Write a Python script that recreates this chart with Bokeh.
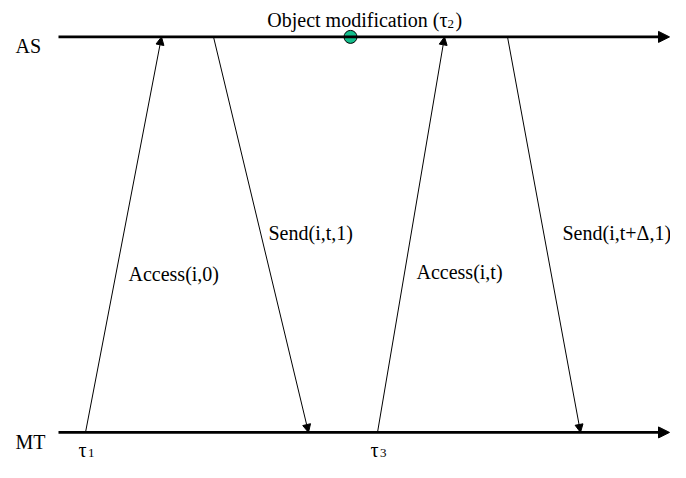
from bokeh.plotting import figure
from bokeh.models import Range1d, Arrow, NormalHead, ColumnDataSource
from bokeh.core.properties import value
from bokeh.embed import file_html
from bokeh.resources import INLINE

# ---- data ----
lane_names = ["AS", "MT"]
lane_y = [37.5, 445]
lane_x_start = 58
lane_x_end = 670

msg_labels = ["Access(i,0)", "Send(i,t,1)", "Access(i,t)", "Send(i,t+\u0394,1)"]
msg_from = ["MT", "AS", "MT", "AS"]
msg_to = ["AS", "MT", "AS", "MT"]
msg_t_start = [85, 213, 377, 507]
msg_t_end = [161, 308, 444, 580]
msg_label_x = [128, 268, 416, 562]
msg_label_y = [282, 240, 280, 240]

event_label = "Object modification (\u03c4"
event_sub = "2"
event_t = 350

tau_names = ["\u03c4", "\u03c4"]
tau_subs = ["1", "3"]
tau_x = [78, 370]

FONT = value("Liberation Serif")

p = figure(width=670, height=462, output_backend="svg", toolbar_location=None,
           x_range=Range1d(0, 670), y_range=Range1d(476, 0),
           min_border=0, outline_line_color=None)
p.axis.visible = False
p.grid.visible = False
p.background_fill_color = "white"
p.border_fill_color = "white"

ly = dict(zip(lane_names, lane_y))

# timelines
for name in lane_names:
    p.add_layout(Arrow(end=NormalHead(size=11, fill_color="black", line_color="black", line_width=1),
                       x_start=lane_x_start, y_start=ly[name], x_end=lane_x_end - 1, y_end=ly[name],
                       line_width=2.6, line_color="black"))

# messages
for f, t, xs, xe in zip(msg_from, msg_to, msg_t_start, msg_t_end):
    p.add_layout(Arrow(end=NormalHead(size=8, fill_color="black", line_color="black", line_width=1),
                       x_start=xs, y_start=ly[f], x_end=xe, y_end=ly[t],
                       line_width=1, line_color="black"))

# lane labels
p.text(x=[15, 15], y=[ly["AS"] + 9.5, ly["MT"] + 9.5], text=lane_names,
       text_font=FONT, text_font_size="20px", text_color="black",
       text_baseline="alphabetic", text_align="left")

# message labels
src = ColumnDataSource(dict(x=msg_label_x, y=msg_label_y, text=msg_labels))
p.text(x="x", y="y", text="text", source=src, text_font=FONT, text_font_size="20px",
       text_color="black", text_baseline="alphabetic", text_align="left")

# event marker
p.scatter(x=[event_t], y=[ly["AS"]], size=13, fill_color="#14be8c", line_color="black", line_width=1)
p.text(x=[447], y=[20], text=[event_label], text_font=FONT, text_font_size="20px",
       text_color="black", text_baseline="alphabetic", text_align="right")
p.text(x=[447], y=[24], text=[event_sub], text_font=FONT, text_font_size="13px",
       text_color="black", text_baseline="alphabetic", text_align="left")
p.text(x=[455], y=[20], text=[")"], text_font=FONT, text_font_size="20px",
       text_color="black", text_baseline="alphabetic", text_align="left")

# tau labels
p.text(x=tau_x, y=[463, 463], text=tau_names, text_font=FONT, text_font_size="20px",
       text_color="black", text_baseline="alphabetic", text_align="left")
p.text(x=[x + 9.5 for x in tau_x], y=[466, 466], text=tau_subs, text_font=FONT,
       text_font_size="13px", text_color="black", text_baseline="alphabetic", text_align="left")

open("out.html", "w").write(file_html(p, INLINE))
